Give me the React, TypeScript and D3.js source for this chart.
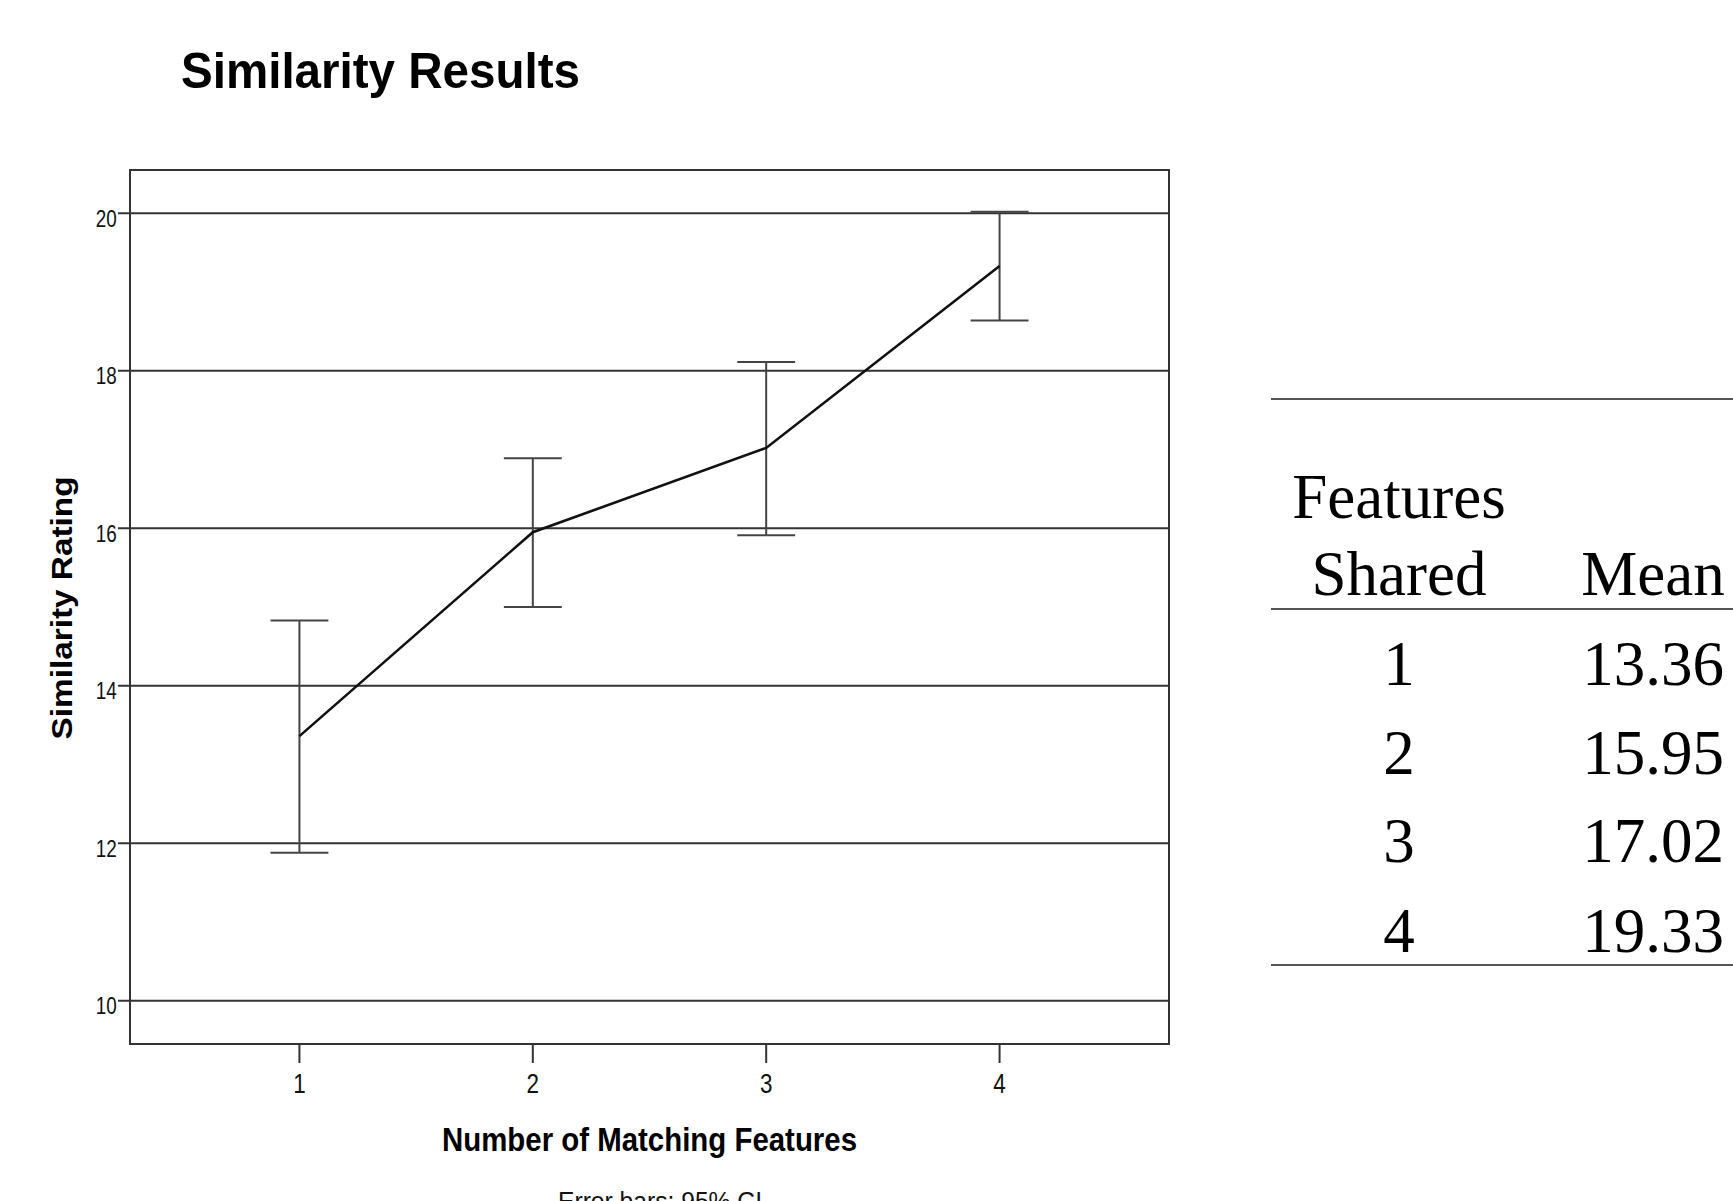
import React from "react";
import * as d3 from "d3";

// Similarity rating by number of matching features (means with 95% CI)
const features = [1, 2, 3, 4];
const means = [13.36, 15.95, 17.02, 19.33];
const ciLower = [11.88, 15.0, 15.91, 18.64];
const ciUpper = [14.83, 16.89, 18.11, 20.02];
const yTicks = [10, 12, 14, 16, 18, 20];

const title = "Similarity Results";
const xTitle = "Number of Matching Features";
const yTitle = "Similarity Rating";
const footnote = "Error bars: 95% CI";
const tableHeadLeft = ["Features", "Shared"];
const tableHeadRight = "Mean";

const W = 1733;
const H = 1201;
const frame = { left: 130, right: 1169, top: 170, bottom: 1044 };

const sans = "'Liberation Sans', Arial, sans-serif";
const serif = "'Liberation Serif', 'Times New Roman', serif";

export default function App() {
  const x = d3.scaleLinear().domain([0.274, 4.726]).range([frame.left, frame.right]);
  const y = d3.scaleLinear().domain([9.45, 20.55]).range([frame.bottom, frame.top]);

  const rows = features.map((f, i) => ({ f, m: means[i], lo: ciLower[i], hi: ciUpper[i] }));
  const line = d3
    .line<{ f: number; m: number }>()
    .x((d) => x(d.f))
    .y((d) => y(d.m));

  const capHalf = x(1.124) - x(1);

  // table geometry
  const tLeft = 1271;
  const colA = 1399;
  const colB = 1653;
  const rowBase = [685, 773.5, 862.3, 951.5];

  return (
    <svg
      width={W}
      height={H}
      style={{ position: "absolute", left: 0, top: 0, display: "block", background: "#fff" }}
    >
      <rect x={0} y={0} width={W} height={H} fill="#fff" />

      <text
        x={181}
        y={88}
        fontFamily={sans}
        fontWeight="bold"
        fontSize={50}
        textLength={399}
        lengthAdjust="spacingAndGlyphs"
        fill="#000"
      >
        {title}
      </text>

      {/* gridlines */}
      {yTicks.map((t) => (
        <line
          key={"g" + t}
          x1={frame.left - 12}
          x2={frame.right}
          y1={y(t)}
          y2={y(t)}
          stroke="#333"
          strokeWidth={2}
        />
      ))}

      {/* frame */}
      <rect
        x={frame.left}
        y={frame.top}
        width={frame.right - frame.left}
        height={frame.bottom - frame.top}
        fill="none"
        stroke="#333"
        strokeWidth={2}
      />

      {/* y tick labels */}
      {yTicks.map((t) => (
        <text
          key={"yl" + t}
          x={116.7}
          y={y(t) + 13.4}
          textAnchor="end"
          fontFamily={sans}
          fontSize={24}
          textLength={21}
          lengthAdjust="spacingAndGlyphs"
          fill="#111"
        >
          {t}
        </text>
      ))}

      {/* x ticks and labels */}
      {features.map((f) => (
        <g key={"xt" + f}>
          <line x1={x(f)} x2={x(f)} y1={frame.bottom} y2={frame.bottom + 19} stroke="#333" strokeWidth={2} />
          <text
            x={x(f)}
            y={1092.7}
            textAnchor="middle"
            fontFamily={sans}
            fontSize={27}
            textLength={12.5}
            lengthAdjust="spacingAndGlyphs"
            fill="#111"
          >
            {f}
          </text>
        </g>
      ))}

      {/* error bars */}
      {rows.map((r) => (
        <g key={"eb" + r.f} stroke="#444" strokeWidth={2}>
          <line x1={x(r.f)} x2={x(r.f)} y1={y(r.hi)} y2={y(r.lo)} />
          <line x1={x(r.f) - capHalf} x2={x(r.f) + capHalf} y1={y(r.hi)} y2={y(r.hi)} />
          <line x1={x(r.f) - capHalf} x2={x(r.f) + capHalf} y1={y(r.lo)} y2={y(r.lo)} />
        </g>
      ))}

      {/* mean line */}
      <path d={line(rows) || ""} fill="none" stroke="#111" strokeWidth={2.6} />

      {/* axis titles */}
      <text
        x={442}
        y={1151}
        fontFamily={sans}
        fontWeight="bold"
        fontSize={33}
        textLength={415}
        lengthAdjust="spacingAndGlyphs"
        fill="#000"
      >
        {xTitle}
      </text>
      <text
        transform={`translate(72,608) rotate(-90)`}
        textAnchor="middle"
        fontFamily={sans}
        fontWeight="bold"
        fontSize={30}
        textLength={263}
        lengthAdjust="spacingAndGlyphs"
        fill="#000"
      >
        {yTitle}
      </text>
      <text
        x={558}
        y={1210}
        fontFamily={sans}
        fontSize={25}
        textLength={204}
        lengthAdjust="spacingAndGlyphs"
        fill="#111"
      >
        {footnote}
      </text>

      {/* summary table */}
      <g fontFamily={serif} fontSize={63} fill="#000">
        <line x1={tLeft} x2={W} y1={399} y2={399} stroke="#555" strokeWidth={2} />
        <line x1={tLeft} x2={W} y1={609} y2={609} stroke="#555" strokeWidth={2} />
        <line x1={tLeft} x2={W} y1={965} y2={965} stroke="#555" strokeWidth={2} />
        <text x={colA} y={518.3} textAnchor="middle">
          {tableHeadLeft[0]}
        </text>
        <text x={colA} y={595} textAnchor="middle">
          {tableHeadLeft[1]}
        </text>
        <text x={colB} y={595} textAnchor="middle">
          {tableHeadRight}
        </text>
        {rows.map((r, i) => (
          <g key={"tr" + r.f}>
            <text x={colA} y={rowBase[i]} textAnchor="middle">
              {r.f}
            </text>
            <text x={colB} y={rowBase[i]} textAnchor="middle">
              {r.m.toFixed(2)}
            </text>
          </g>
        ))}
      </g>
    </svg>
  );
}
